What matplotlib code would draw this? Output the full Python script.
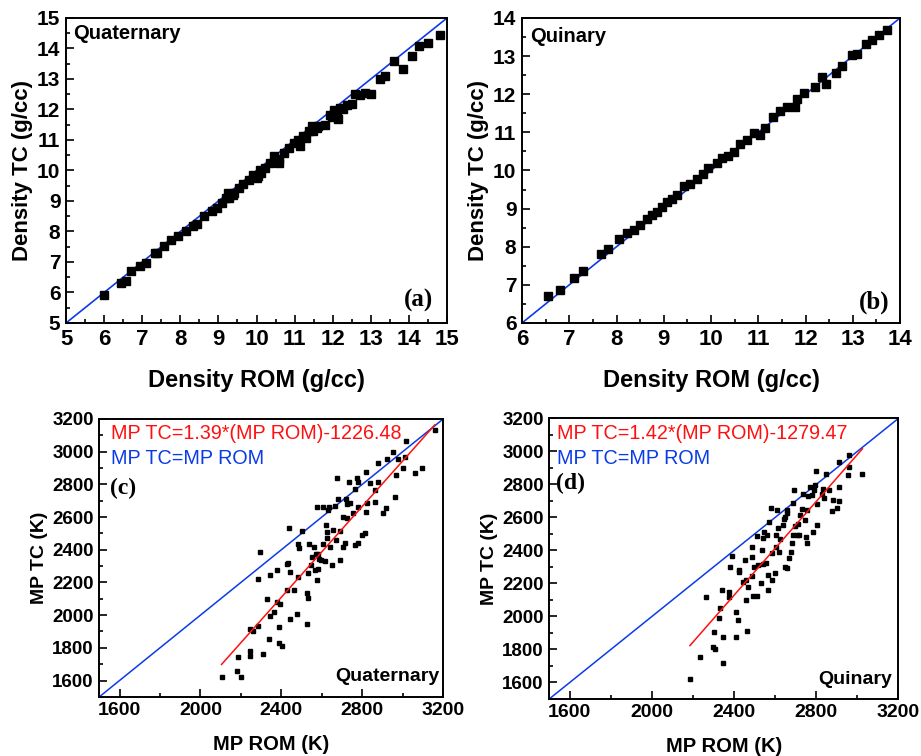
import matplotlib
matplotlib.use("Agg")
import matplotlib.pyplot as plt
from matplotlib import font_manager
from matplotlib.ticker import MultipleLocator
import numpy as np

# ---------------- data ----------------
quat_rom_density = [6.00, 6.44, 6.57, 6.70, 6.94, 7.09, 7.34, 7.40, 7.57, 7.75, 7.95, 8.15, 8.34, 8.45,
                    8.63, 8.83, 8.96, 9.09, 9.20, 9.26, 9.38, 9.53, 9.64, 9.79, 9.92, 10.05, 10.10,
                    10.23, 10.36, 10.45, 10.58, 10.71, 10.84, 10.97, 11.10, 11.23, 11.37, 11.45, 11.58,
                    11.80, 11.94, 12.02, 12.15, 12.20, 12.37, 12.50, 12.59, 12.72, 12.85, 13.00, 13.25,
                    13.38, 13.60, 13.84, 14.08, 14.26, 14.50, 14.81,
                    9.27, 9.40, 10.00, 10.13, 10.60, 11.13, 11.31, 11.49, 11.62, 11.97, 12.10, 12.28]
quat_tc_density = [5.93, 6.31, 6.39, 6.69, 6.86, 6.97, 7.30, 7.30, 7.51, 7.71, 7.84, 8.00, 8.17, 8.26,
                   8.52, 8.66, 8.77, 8.93, 9.10, 9.26, 9.21, 9.43, 9.57, 9.70, 9.86, 9.81, 10.03,
                   10.08, 10.25, 10.46, 10.36, 10.57, 10.74, 10.90, 11.01, 11.12, 11.28, 11.45, 11.39,
                   11.50, 11.83, 11.99, 11.69, 12.05, 12.16, 12.19, 12.51, 12.49, 12.54, 12.52, 13.00,
                   13.11, 13.58, 13.34, 13.74, 14.09, 14.18, 14.43,
                   9.10, 9.26, 9.76, 9.92, 10.25, 10.79, 11.06, 11.28, 11.45, 11.74, 11.85, 12.03]

quin_rom_density = [6.56, 6.81, 7.11, 7.30, 7.67, 7.83, 8.06, 8.23, 8.36, 8.50, 8.64, 8.75, 8.85, 8.96,
                    9.07, 9.17, 9.28, 9.42, 9.56, 9.70, 9.83, 9.93, 10.12, 10.23, 10.37, 10.48, 10.62,
                    10.76, 10.90, 11.04, 11.14, 11.32, 11.46, 11.60, 11.78, 11.81, 11.96, 12.20, 12.34,
                    12.43, 12.65, 12.78, 12.98, 13.10, 13.27, 13.40, 13.55, 13.72]
quin_tc_density = [6.70, 6.86, 7.19, 7.37, 7.80, 7.94, 8.20, 8.35, 8.43, 8.57, 8.74, 8.83, 8.92, 9.05,
                   9.18, 9.25, 9.36, 9.59, 9.64, 9.78, 9.92, 10.06, 10.19, 10.32, 10.38, 10.49, 10.70,
                   10.80, 10.99, 10.93, 11.11, 11.41, 11.56, 11.66, 11.66, 11.88, 12.03, 12.19, 12.45,
                   12.26, 12.55, 12.73, 13.04, 13.06, 13.32, 13.41, 13.56, 13.69]

quat_rom_mp = [2104, 2183, 2186, 2199, 2244, 2244, 2244, 2260, 2285, 2285, 2294, 2307, 2327, 2340, 2343,
               2343, 2365, 2376, 2379, 2389, 2393, 2388, 2401, 2426, 2426, 2434, 2439, 2443, 2443, 2464,
               2475, 2480, 2483, 2486, 2500, 2525, 2525, 2530, 2533, 2538, 2545, 2550, 2561, 2566, 2571,
               2578, 2583, 2583, 2574, 2587, 2598, 2607, 2607, 2615, 2620, 2623, 2623, 2631, 2636, 2640,
               2648, 2656, 2664, 2669, 2675, 2680, 2689, 2692, 2702, 2705, 2713, 2718, 2722, 2725, 2733,
               2738, 2754, 2763, 2766, 2774, 2779, 2779, 2779, 2796, 2812, 2818, 2818, 2821, 2837, 2862,
               2862, 2878, 2878, 2903, 2916, 2920, 2961, 2953, 2966, 2978, 3002, 3010, 3015, 3060, 3097,
               3158]
quat_tc_mp = [1622, 1659, 1745, 1622, 1779, 1749, 1918, 1902, 1933, 2220, 2388, 1765, 2096, 1853, 2245,
              1996, 2020, 2276, 2082, 1928, 2067, 1830, 1810, 2153, 2311, 2321, 2531, 1976, 2266, 2155,
              2004, 2235, 2435, 2409, 2515, 1943, 2133, 2102, 2259, 2433, 2306, 2357, 2418, 2275, 2376,
              2214, 2376, 2280, 2663, 2341, 2337, 2663, 2435, 2333, 2551, 2506, 2469, 2643, 2663, 2418,
              2306, 2520, 2667, 2459, 2837, 2712, 2337, 2514, 2418, 2602, 2443, 2712, 2680, 2592, 2816,
              2684, 2622, 2769, 2426, 2837, 2816, 2443, 2663, 2490, 2500, 2878, 2633, 2688, 2806, 2765,
              2694, 2929, 2816, 2622, 2653, 2953, 2724, 3000, 2857, 2953, 2898, 2969, 3065, 2871, 2898,
              3133]

quin_rom_mp = [2185, 2234, 2263, 2296, 2302, 2307, 2328, 2331, 2339, 2344, 2348, 2377, 2377, 2380, 2388,
               2408, 2409, 2417, 2424, 2425, 2442, 2453, 2456, 2458, 2461, 2466, 2485, 2488, 2489, 2493,
               2498, 2510, 2510, 2518, 2529, 2534, 2539, 2542, 2547, 2555, 2558, 2566, 2566, 2571, 2578,
               2583, 2586, 2599, 2604, 2604, 2607, 2612, 2620, 2623, 2640, 2645, 2648, 2648, 2656, 2656,
               2659, 2669, 2676, 2681, 2685, 2689, 2692, 2697, 2705, 2713, 2718, 2721, 2729, 2737, 2745,
               2750, 2753, 2756, 2762, 2770, 2778, 2786, 2789, 2794, 2799, 2802, 2805, 2827, 2835, 2838,
               2848, 2864, 2875, 2883, 2899, 2911, 2912, 2912, 2956, 2961, 2961, 3025]
quin_tc_mp = [1619, 1752, 2115, 1817, 1908, 1801, 1988, 2049, 2160, 1878, 1720, 2146, 2115, 2301, 2367,
              2028, 1873, 1978, 2281, 2267, 2210, 2345, 2099, 2220, 1914, 2180, 2418, 2245, 2361, 2124,
              2301, 2124, 2486, 2311, 2204, 2402, 2478, 2317, 2513, 2321, 2494, 2249, 2160, 2573, 2658,
              2220, 2383, 2261, 2494, 2422, 2644, 2533, 2393, 2468, 2553, 2593, 2604, 2301, 2648, 2628,
              2291, 2352, 2393, 2446, 2494, 2688, 2769, 2547, 2494, 2561, 2494, 2614, 2654, 2740, 2587,
              2482, 2446, 2644, 2728, 2785, 2734, 2513, 2765, 2795, 2880, 2684, 2553, 2744, 2775, 2720,
              2865, 2765, 2638, 2704, 2658, 2700, 2785, 2936, 2855, 2906, 2976, 2861]

quat_fit = (1.39, -1226.48)
quin_fit = (1.42, -1279.47)

density_x_ticks_a = list(range(5, 16))
density_y_ticks_a = list(range(5, 16))
density_x_ticks_b = list(range(6, 15))
density_y_ticks_b = list(range(6, 15))
mp_x_ticks = [1600, 2000, 2400, 2800, 3200]
mp_y_ticks = [1600, 1800, 2000, 2200, 2400, 2600, 2800, 3000, 3200]

# ---------------- fonts ----------------
def has_font(name):
    try:
        font_manager.findfont(name, fallback_to_default=False)
        return True
    except Exception:
        return False

SANS = "Liberation Sans" if has_font("Liberation Sans") else "DejaVu Sans"
NARROW = "Liberation Sans Narrow" if has_font("Liberation Sans Narrow") else SANS
SERIF = "Liberation Serif" if has_font("Liberation Serif") else "DejaVu Serif"
plt.rcParams["font.family"] = [SANS, "DejaVu Sans"]

BLUE = "#0a3be8"
RED = "#ff1010"

fig = plt.figure(figsize=(9.21, 7.56), dpi=100)

def style_axes(ax, xmaj, xmin, ymaj, ymin, xt_font, xt_size, yt_size):
    for s in ax.spines.values():
        s.set_linewidth(1.4)
    ax.xaxis.set_major_locator(MultipleLocator(xmaj))
    ax.xaxis.set_minor_locator(MultipleLocator(xmin))
    ax.yaxis.set_major_locator(MultipleLocator(ymaj))
    ax.yaxis.set_minor_locator(MultipleLocator(ymin))
    ax.tick_params(which="both", direction="in", top=False, right=False, width=1.2)
    ax.tick_params(which="major", length=6, pad=4)
    ax.tick_params(which="minor", length=3)
    for lab in ax.get_xticklabels():
        lab.set_fontfamily(xt_font)
        lab.set_fontweight("bold")
        lab.set_fontsize(xt_size)
    for lab in ax.get_yticklabels():
        lab.set_fontweight("bold")
        lab.set_fontsize(yt_size)

# ---- panel (a)
axa = fig.add_axes([0.0717, 0.5728, 0.4137, 0.4034])
axa.plot([5, 15], [5, 15], color=BLUE, lw=1.2, zorder=2)
axa.plot(quat_rom_density, quat_tc_density, "s", color="black", ms=5.6, zorder=3)
axa.set_xlim(5, 15); axa.set_ylim(5, 15)
axa.set_xticks(density_x_ticks_a); axa.set_yticks(density_y_ticks_a)
style_axes(axa, 1, 0.5, 1, 0.5, NARROW, 16, 15)
axa.set_xlabel("Density ROM (g/cc)", fontsize=17, fontweight="bold", family=NARROW, labelpad=14)
axa.set_ylabel("Density TC (g/cc)", fontsize=16, fontweight="bold", labelpad=3)
axa.text(0.018, 0.95, "Quaternary", transform=axa.transAxes, fontsize=14.5, fontweight="bold",
         ha="left", va="center")
axa.text(0.963, 0.073, "(a)", transform=axa.transAxes, fontsize=18, fontweight="bold",
         family=SERIF, ha="right", va="center")

# ---- panel (b)
axb = fig.add_axes([0.5668, 0.5728, 0.4104, 0.4034])
axb.plot([6, 14], [6, 14], color=BLUE, lw=1.2, zorder=2)
axb.plot(quin_rom_density, quin_tc_density, "s", color="black", ms=5.6, zorder=3)
axb.set_xlim(6, 14); axb.set_ylim(6, 14)
axb.set_xticks(density_x_ticks_b); axb.set_yticks(density_y_ticks_b)
style_axes(axb, 1, 0.5, 1, 0.5, NARROW, 16, 15)
axb.set_xlabel("Density ROM (g/cc)", fontsize=17, fontweight="bold", family=NARROW, labelpad=14)
axb.set_ylabel("Density TC (g/cc)", fontsize=16, fontweight="bold", labelpad=3)
axb.text(0.022, 0.94, "Quinary", transform=axb.transAxes, fontsize=14.5, fontweight="bold",
         ha="left", va="center")
axb.text(0.972, 0.069, "(b)", transform=axb.transAxes, fontsize=18, fontweight="bold",
         family=SERIF, ha="right", va="center")

# ---- panels (c), (d)
def mp_panel(rect, rom, tc, fit, fit_text, tag, name, txt_x, tag_y, name_right, ys):
    ax = fig.add_axes(rect)
    ax.plot([1500, 3200], [1500, 3200], color=BLUE, lw=1.1, zorder=2)
    ax.plot(rom, tc, "s", color="black", ms=2.7, zorder=3)
    xs = np.array([min(rom), max(rom)])
    ax.plot(xs, fit[0] * xs + fit[1], color=RED, lw=1.1, zorder=4)
    ax.set_xlim(1500, 3200); ax.set_ylim(1500, 3200)
    ax.set_xticks(mp_x_ticks); ax.set_yticks(mp_y_ticks)
    style_axes(ax, 400, 200, 200, 100, SANS, 14, 13.5)
    ax.set_xlabel("MP ROM (K)", fontsize=14.5, fontweight="bold", labelpad=11)
    ax.set_ylabel("MP TC (K)", fontsize=14, fontweight="bold", labelpad=3)
    ax.text(txt_x, ys[0], fit_text, transform=ax.transAxes, color=RED, fontsize=14.2,
            ha="left", va="center")
    ax.text(txt_x, ys[1], "MP TC=MP ROM", transform=ax.transAxes, color=BLUE, fontsize=14.2,
            ha="left", va="center")
    ax.text(txt_x - 0.003, tag_y, tag, transform=ax.transAxes, fontsize=17, fontweight="bold",
            family=SERIF, ha="left", va="center")
    ax.text(name_right, ys[2], name, transform=ax.transAxes, fontsize=14, fontweight="bold",
            ha="right", va="center")
    return ax

axc = mp_panel([0.1078, 0.0782, 0.3735, 0.3677], quat_rom_mp, quat_tc_mp, quat_fit,
               "MP TC=1.39*(MP ROM)-1226.48", "(c)", "Quaternary", 0.034, 0.75, 0.988,
               (0.948, 0.858, 0.072))
axd = mp_panel([0.5964, 0.0755, 0.379, 0.371], quin_rom_mp, quin_tc_mp, quin_fit,
               "MP TC=1.42*(MP ROM)-1279.47", "(d)", "Quinary", 0.023, 0.767, 0.981,
               (0.945, 0.856, 0.068))

fig.savefig("out.png", dpi=100)
